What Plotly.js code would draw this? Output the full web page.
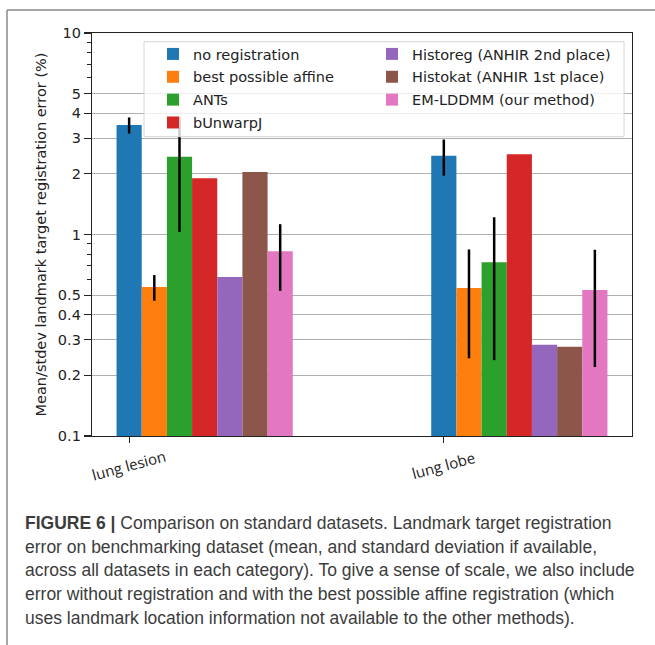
<!DOCTYPE html>
<html>
<head>
<meta charset="utf-8">
<script src="https://cdn.plot.ly/plotly-3.0.1.min.js"></script>
<style>
  html, body { margin: 0; padding: 0; background: #ffffff; }
  #chart { width: 655px; height: 645px; }
</style>
</head>
<body>
<div id="chart"></div>
<script>
// Landmark target registration error (%) per method, for each dataset category
const categories = ['lung lesion', 'lung lobe'];
const methods = [
  'no registration',
  'best possible affine',
  'ANTs',
  'bUnwarpJ',
  'Historeg (ANHIR 2nd place)',
  'Histokat (ANHIR 1st place)',
  'EM-LDDMM (our method)'
];
// mean error, one row per method: [lung lesion, lung lobe]
const meanNoReg    = [3.49, 2.46];
const meanAffine   = [0.549, 0.543];
const meanANTs     = [2.43, 0.728];
const meanBUnwarpJ = [1.90, 2.50];
const meanHistoreg = [0.615, 0.284];
const meanHistokat = [2.04, 0.277];
const meanEMLDDMM  = [0.825, 0.53];
// standard deviation where available
const sdNoReg    = [0.32, 0.50];
const sdAffine   = [0.08, 0.30];
const sdANTs     = [1.40, 0.49];
const sdBUnwarpJ = null;
const sdHistoreg = null;
const sdHistokat = null;
const sdEMLDDMM  = [0.30, 0.31];

const yTicks = [0.1, 0.2, 0.3, 0.4, 0.5, 1, 2, 3, 4, 5, 10];
const yTickText = ['0.1', '0.2', '0.3', '0.4', '0.5', '1', '2', '3', '4', '5', '10'];
const yMinorTicks = [0.6, 0.7, 0.8, 0.9, 6, 7, 8, 9];

const means = [meanNoReg, meanAffine, meanANTs, meanBUnwarpJ, meanHistoreg, meanHistokat, meanEMLDDMM];
const sds = [sdNoReg, sdAffine, sdANTs, sdBUnwarpJ, sdHistoreg, sdHistokat, sdEMLDDMM];
const colors = ['#1f77b4', '#ff7f0e', '#2ca02c', '#d62728', '#9467bd', '#8c564b', '#e377c2'];

// plot box geometry in pixels, used to place text outside the axes
const W = 655, H = 645;
const M = { l: 92, r: 23, t: 33, b: 209 };
const plotW = W - M.l - M.r, plotH = H - M.t - M.b;
const px2x = (px) => (px - M.l) / plotW;
const py2y = (py) => (H - M.b - py) / plotH;

const barW = 0.08;
const font = 'DejaVu Sans, sans-serif';

const traces = methods.map((name, i) => {
  const t = {
    type: 'bar',
    name: name,
    x: categories.map((c, k) => k + i * barW),
    y: means[i],
    width: barW,
    marker: { color: colors[i], line: { width: 0 } },
    legend: i < 4 ? 'legend' : 'legend2',
    legendgroup: 'g' + i,
    hoverinfo: 'name+y'
  };
  if (sds[i]) {
    t.error_y = { type: 'data', array: sds[i], visible: true, color: '#000000', thickness: 2.5, width: 0 };
  }
  return t;
});

const annotations = categories.map((c, k) => ({
  text: c,
  xref: 'x', x: k,
  yref: 'paper', y: 0, yshift: -29,
  xanchor: 'center', yanchor: 'middle',
  textangle: -15,
  showarrow: false,
  font: { family: 'Open Sans, sans-serif', size: 15, color: '#222222' }
}));

const caption = [
  '<b>FIGURE 6 |</b> Comparison on standard datasets. Landmark target registration',
  'error on benchmarking dataset (mean, and standard deviation if available,',
  'across all datasets in each category). To give a sense of scale, we also include',
  'error without registration and with the best possible affine registration (which',
  'uses landmark location information not available to the other methods).'
];
caption.forEach((line, j) => {
  annotations.push({
    text: line,
    xref: 'paper', x: px2x(23),
    yref: 'paper', y: py2y(523 + j * 23.7),
    xanchor: 'left', yanchor: 'middle',
    showarrow: false,
    font: { family: 'Liberation Sans, Arial, sans-serif', size: 17.5, color: '#3c3c3c' }
  });
});

const layout = {
  width: W, height: H,
  margin: M,
  paper_bgcolor: '#ffffff',
  plot_bgcolor: '#ffffff',
  barmode: 'overlay',
  showlegend: true,
  font: { family: font, size: 14, color: '#222222' },
  xaxis: {
    range: [-0.118, 1.598],
    tickmode: 'array',
    tickvals: categories.map((c, k) => k),
    showticklabels: false,
    ticks: 'outside', ticklen: 6, tickwidth: 1.2, tickcolor: '#222222',
    showgrid: false, zeroline: false,
    showline: true, linecolor: '#222222', linewidth: 1.2, mirror: true
  },
  yaxis: {
    type: 'log',
    range: [-1, 1],
    tickmode: 'array',
    tickvals: yTicks,
    ticktext: yTickText,
    ticks: 'outside', ticklen: 7, tickwidth: 1.2, tickcolor: '#222222',
    tickfont: { family: font, size: 14.5, color: '#222222' },
    minor: { tickmode: 'array', tickvals: yMinorTicks, ticks: 'outside', ticklen: 4, tickwidth: 1, tickcolor: '#222222', showgrid: false },
    showgrid: true, gridcolor: '#b0b0b0', gridwidth: 1.2,
    zeroline: false,
    showline: true, linecolor: '#222222', linewidth: 1.2, mirror: true,
    layer: 'above traces',
    title: {
      text: 'Mean/stdev landmark target registration error (%)',
      font: { family: font, size: 14.5, color: '#222222' },
      standoff: 7
    }
  },
  legend: {
    x: px2x(153), xanchor: 'left',
    y: py2y(38), yanchor: 'top',
    bgcolor: 'rgba(0,0,0,0)', borderwidth: 0,
    tracegroupgap: 1,
    font: { family: font, size: 14.5, color: '#222222' }
  },
  legend2: {
    x: px2x(372), xanchor: 'left',
    y: py2y(38), yanchor: 'top',
    bgcolor: 'rgba(0,0,0,0)', borderwidth: 0,
    tracegroupgap: 1,
    font: { family: font, size: 14.5, color: '#222222' }
  },
  shapes: [
    // shared legend frame
    {
      type: 'rect', xref: 'paper', yref: 'paper', layer: 'above',
      x0: px2x(144), x1: px2x(624), y0: py2y(136.7), y1: py2y(41.7),
      fillcolor: 'rgba(255,255,255,0.8)',
      line: { color: '#d6d6d6', width: 1 }
    },
    // figure frame: top and left rules
    {
      type: 'line', xref: 'paper', yref: 'paper', layer: 'above',
      x0: px2x(7), x1: px2x(660), y0: py2y(10), y1: py2y(10),
      line: { color: '#8a8a8a', width: 1.5 }
    },
    {
      type: 'line', xref: 'paper', yref: 'paper', layer: 'above',
      x0: px2x(7), x1: px2x(7), y0: py2y(10), y1: py2y(650),
      line: { color: '#8a8a8a', width: 1.5 }
    }
  ],
  annotations: annotations
};

Plotly.newPlot('chart', traces, layout, { displayModeBar: false, staticPlot: true });
</script>
</body>
</html>
